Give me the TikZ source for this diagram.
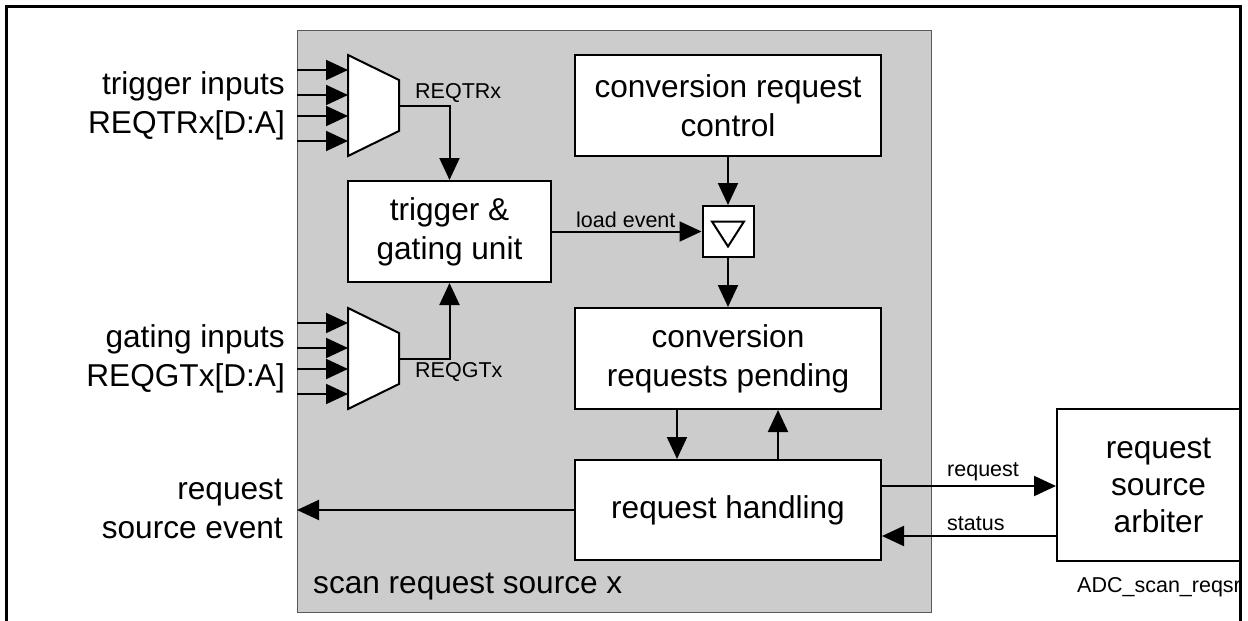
\documentclass[tikz,border=0pt]{standalone}
\usepackage{fontspec}
\setmainfont{Liberation Sans}
\usetikzlibrary{arrows.meta}
\newcommand\bigtxt{\fontsize{31.6}{39}\selectfont}
\newcommand\arbtxt{\fontsize{31.6}{37}\selectfont}
\newcommand\smalltxt{\fontsize{21.5}{26}\selectfont}
\begin{document}
\begin{tikzpicture}[x=1pt,y=-1pt,
  box/.style={draw, line width=2pt, fill=white, inner sep=0pt, align=center, font=\bigtxt},
  arr/.style={line width=2pt, -{Triangle[length=22pt,width=20pt]}},
  conn/.style={line width=2pt},
  muxshape/.style={draw, line width=2pt, fill=white, line join=miter},
  biglbl/.style={inner sep=0pt, font=\bigtxt, align=right},
  smalllbl/.style={inner sep=0pt, font=\smalltxt}]
\useasboundingbox (0,0) rectangle (1248,621);
\fill[white] (0,0) rectangle (1248,621);

% scan request source background
\node[draw=black!65, line width=1pt, fill=black!20, minimum width=634, minimum height=582, inner sep=0pt] (src) at (614,321) {};
\node[inner sep=0pt, font=\bigtxt, anchor=west] (srclbl) at (313,587) {scan request source x};

% multiplexers
\draw[muxshape] (348,55) -- (399,80) -- (399,131) -- (348,156) -- cycle;
\draw[muxshape] (348,308) -- (399,333) -- (399,384) -- (348,409) -- cycle;
\coordinate (m1out) at (399,105.5);
\coordinate (m2out) at (399,358.5);
\foreach \i/\dy in {1/-35.5,2/-10.5,3/10.5,4/35.5}{
  \coordinate (t\i) at (297,105.5+\dy);
  \coordinate (m1in\i) at (348,105.5+\dy);
  \coordinate (g\i) at (297,358.5+\dy);
  \coordinate (m2in\i) at (348,358.5+\dy);
  \draw[arr] (t\i) -- (m1in\i);
  \draw[arr] (g\i) -- (m2in\i);
}

% blocks
\node[box, minimum width=203, minimum height=101] (trig) at (449.5,231.5) {trigger \&\\gating unit};
\node[box, minimum width=306, minimum height=101] (ctrl) at (728,105.5) {conversion request\\control};
\node[box, minimum width=51, minimum height=51] (tri) at (728,231.5) {};
\draw[line width=2pt, line join=miter] ([shift={(-16,-10)}]tri.center) -- ([shift={(16,-10)}]tri.center) -- ([shift={(0,15)}]tri.center) -- cycle;
\node[box, minimum width=306, minimum height=101] (pend) at (728,358.5) {conversion\\requests pending};
\node[box, minimum width=306, minimum height=100] (hand) at (728,510) {request handling};
\begin{scope}
  \clip (0,0) rectangle (1240.5,621);
  \node[box, font=\arbtxt, minimum width=203, minimum height=152] (arb) at (1158.5,485) {request\\source\\arbiter};
\end{scope}

% connectors
\draw[arr] (m1out) -| (trig.north);
\draw[arr] (m2out) -| (trig.south);
\draw[arr] (trig.east) -- (tri.west);
\draw[arr] (ctrl.south) -- (tri.north);
\draw[arr] (tri.south) -- (pend.north);
\draw[arr] ([xshift=-51pt]pend.south) -- ([xshift=-51pt]hand.north);
\draw[arr] ([xshift=50pt]hand.north) -- ([xshift=50pt]pend.south);
\coordinate (rse) at (297,510);
\draw[arr] (hand.west) -- (rse);
\coordinate (rq) at (1000,486);
\coordinate (st) at (1000,536);
\draw[arr] (rq -| hand.east) -- (rq -| arb.west);
\draw[arr] (st -| arb.west) -- (st -| hand.east);

% labels
\node[smalllbl, anchor=west] (lreqtr) at (415,93) {REQTRx};
\node[smalllbl, anchor=west] (lreqgt) at (415,372) {REQGTx};
\node[smalllbl, anchor=west] (lload) at (576,220) {load event};
\node[smalllbl, anchor=west] (lreq) at (947,472) {request};
\node[smalllbl, anchor=west] (lstat) at (947,524) {status};
\node[smalllbl, anchor=west] (ladc) at (1077,587) {ADC\_scan\_reqsr};
\node[biglbl, anchor=east] (ltrig) at (285,105.5) {trigger inputs\\REQTRx[D:A]};
\node[biglbl, anchor=east] (lgate) at (285,358.5) {gating inputs\\REQGTx[D:A]};
\node[biglbl, anchor=east] (lrse) at (283,509) {request\\source event};

% outer frame
\draw[line width=3pt] (6.5,630) -- (6.5,6.5) -- (1240.5,6.5) -- (1240.5,630);
\end{tikzpicture}
\end{document}
